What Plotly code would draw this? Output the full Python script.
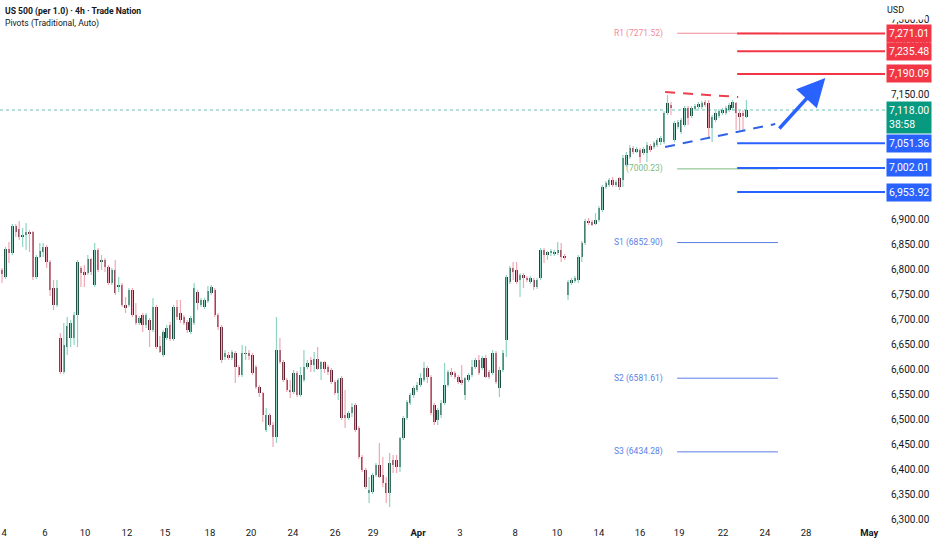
import plotly.graph_objects as go

# 4h candles, US 500
opens = [
    6798, 6784, 6840, 6832, 6886, 6880, 6864, 6868, 6874, 6874,
    6784, 6824, 6834, 6844, 6814, 6762, 6728, 6662, 6594, 6644,
    6662, 6662, 6708, 6802, 6794, 6792, 6820, 6768, 6838, 6814,
    6818, 6804, 6772, 6798, 6764, 6768, 6728, 6728, 6758, 6708,
    6692, 6708, 6688, 6698, 6678, 6724, 6646, 6628, 6662, 6688,
    6660, 6724, 6712, 6704, 6694, 6674, 6692, 6754, 6728, 6724,
    6736, 6752, 6758, 6708, 6684, 6624, 6628, 6622, 6632, 6604,
    6588, 6630, 6632, 6628, 6604, 6564, 6552, 6478, 6508, 6488,
    6464, 6638, 6614, 6578, 6558, 6554, 6592, 6548, 6578, 6604,
    6618, 6608, 6620, 6600, 6614, 6604, 6598, 6574, 6552, 6582,
    6508, 6502, 6512, 6528, 6482, 6424, 6398, 6352, 6354, 6388,
    6408, 6388, 6372, 6352, 6418, 6418, 6404, 6462, 6502, 6532,
    6548, 6558, 6568, 6578, 6602, 6584, 6528, 6498, 6508, 6532,
    6568, 6594, 6592, 6584, 6578, 6548, 6578, 6588, 6604, 6618,
    6602, 6622, 6594, 6592, 6632, 6562, 6598, 6658, 6774, 6802,
    6798, 6778, 6788, 6782, 6774, 6778, 6764, 6782, 6838, 6828,
    6832, 6830, 6832, 6838, 6826, 6748, 6772, 6776, 6778, 6824,
    6852, 6896, 6894, 6890, 6898, 6918, 6964, 6968, 6978, 6968,
    6982, 6978, 7008, 7024, 7042, 7034, 7038, 7032, 7032, 7046,
    7044, 7048, 7054, 7054, 7112, 7128, 7058, 7084, 7074, 7088,
    7122, 7106, 7120, 7124, 7124, 7134, 7132, 7082, 7098, 7106,
    7112, 7112, 7118, 7122, 7132, 7112, 7112, 7104,
]
highs = [
    6802, 6844, 6854, 6890, 6890, 6896, 6882, 6892, 6878, 6876,
    6828, 6852, 6852, 6848, 6818, 6778, 6778, 6672, 6692, 6704,
    6698, 6714, 6818, 6806, 6808, 6828, 6822, 6852, 6842, 6828,
    6822, 6808, 6802, 6818, 6784, 6772, 6744, 6762, 6762, 6732,
    6706, 6712, 6712, 6702, 6742, 6728, 6666, 6678, 6688, 6694,
    6728, 6738, 6738, 6708, 6698, 6706, 6772, 6758, 6742, 6742,
    6766, 6768, 6762, 6712, 6688, 6638, 6634, 6638, 6636, 6608,
    6648, 6646, 6638, 6632, 6608, 6568, 6554, 6522, 6512, 6494,
    6704, 6662, 6618, 6582, 6578, 6598, 6596, 6604, 6638, 6618,
    6624, 6634, 6644, 6616, 6616, 6608, 6602, 6578, 6582, 6586,
    6558, 6516, 6532, 6532, 6486, 6428, 6402, 6384, 6392, 6412,
    6452, 6424, 6384, 6432, 6428, 6428, 6464, 6506, 6538, 6552,
    6566, 6574, 6592, 6614, 6606, 6588, 6532, 6522, 6538, 6612,
    6598, 6602, 6596, 6588, 6608, 6584, 6592, 6618, 6622, 6628,
    6626, 6628, 6598, 6638, 6636, 6604, 6638, 6788, 6806, 6814,
    6814, 6792, 6792, 6786, 6786, 6782, 6782, 6842, 6842, 6836,
    6840, 6838, 6854, 6852, 6830, 6778, 6782, 6786, 6828, 6856,
    6900, 6902, 6898, 6912, 6926, 6968, 6976, 6982, 6984, 6978,
    6984, 7028, 7034, 7048, 7046, 7044, 7042, 7044, 7054, 7050,
    7056, 7062, 7066, 7116, 7148, 7134, 7096, 7098, 7102, 7126,
    7126, 7126, 7130, 7134, 7136, 7138, 7138, 7108, 7116, 7120,
    7122, 7126, 7132, 7138, 7134, 7116, 7118, 7138,
]
lows = [
    6772, 6780, 6812, 6828, 6864, 6858, 6844, 6838, 6834, 6778,
    6780, 6822, 6824, 6802, 6746, 6718, 6724, 6590, 6590, 6628,
    6644, 6648, 6644, 6764, 6764, 6788, 6788, 6764, 6794, 6798,
    6794, 6768, 6768, 6748, 6754, 6724, 6712, 6724, 6704, 6688,
    6688, 6674, 6682, 6644, 6674, 6640, 6632, 6624, 6658, 6656,
    6656, 6698, 6692, 6688, 6672, 6670, 6688, 6718, 6724, 6720,
    6732, 6748, 6704, 6678, 6612, 6618, 6618, 6618, 6572, 6584,
    6584, 6618, 6618, 6588, 6560, 6544, 6494, 6474, 6484, 6444,
    6452, 6610, 6574, 6554, 6542, 6550, 6544, 6544, 6574, 6600,
    6594, 6594, 6598, 6578, 6592, 6588, 6570, 6548, 6538, 6498,
    6482, 6498, 6504, 6474, 6420, 6394, 6360, 6332, 6350, 6384,
    6382, 6364, 6332, 6324, 6392, 6392, 6394, 6458, 6498, 6528,
    6542, 6554, 6564, 6574, 6572, 6508, 6488, 6488, 6502, 6528,
    6564, 6584, 6580, 6570, 6568, 6538, 6574, 6584, 6600, 6588,
    6598, 6582, 6580, 6588, 6570, 6544, 6594, 6624, 6770, 6778,
    6770, 6744, 6762, 6774, 6770, 6758, 6760, 6778, 6812, 6818,
    6826, 6826, 6828, 6814, 6818, 6738, 6768, 6772, 6772, 6814,
    6848, 6888, 6886, 6888, 6894, 6914, 6960, 6964, 6964, 6964,
    6958, 6964, 7004, 7020, 7030, 7032, 7012, 7028, 7014, 7034,
    7040, 7044, 7048, 7050, 7108, 7108, 7054, 7080, 7070, 7084,
    7088, 7102, 7116, 7120, 7120, 7124, 7064, 7054, 7094, 7102,
    7108, 7108, 7114, 7118, 7078, 7078, 7078, 7102,
]
closes = [
    6790, 6840, 6832, 6886, 6874, 6864, 6868, 6874, 6870, 6784,
    6824, 6836, 6844, 6814, 6758, 6728, 6762, 6594, 6648, 6686,
    6692, 6708, 6814, 6792, 6788, 6820, 6794, 6838, 6798, 6818,
    6804, 6772, 6798, 6752, 6768, 6728, 6722, 6758, 6708, 6692,
    6702, 6688, 6708, 6678, 6724, 6644, 6634, 6674, 6682, 6660,
    6724, 6704, 6698, 6692, 6678, 6702, 6762, 6732, 6738, 6738,
    6756, 6764, 6708, 6684, 6618, 6632, 6622, 6634, 6604, 6588,
    6632, 6632, 6626, 6592, 6564, 6552, 6508, 6508, 6488, 6464,
    6638, 6614, 6578, 6558, 6554, 6592, 6548, 6588, 6604, 6612,
    6608, 6620, 6600, 6614, 6600, 6594, 6574, 6552, 6578, 6502,
    6502, 6512, 6524, 6478, 6424, 6398, 6364, 6358, 6388, 6408,
    6384, 6372, 6352, 6412, 6408, 6404, 6462, 6502, 6534, 6548,
    6562, 6568, 6582, 6602, 6584, 6512, 6494, 6518, 6532, 6568,
    6594, 6588, 6584, 6574, 6572, 6582, 6588, 6604, 6618, 6592,
    6622, 6584, 6584, 6632, 6574, 6598, 6632, 6784, 6802, 6794,
    6774, 6788, 6782, 6778, 6782, 6764, 6778, 6838, 6828, 6834,
    6836, 6834, 6838, 6824, 6822, 6774, 6778, 6782, 6824, 6852,
    6896, 6892, 6888, 6898, 6922, 6964, 6972, 6978, 6968, 6974,
    6964, 7022, 7028, 7042, 7034, 7040, 7024, 7040, 7048, 7038,
    7052, 7058, 7062, 7112, 7132, 7122, 7092, 7094, 7098, 7122,
    7102, 7122, 7126, 7130, 7132, 7128, 7082, 7104, 7112, 7116,
    7118, 7122, 7128, 7134, 7112, 7104, 7106, 7118,
]

# date labels on the bar axis
tick_bars = [0.6, 12.5, 24.2, 36.4, 47.5, 60.6, 72.6, 84.8, 97.1, 108.2, 121.3,
             133.5, 149.6, 161.8, 174, 186, 197.4, 210.2, 222.4, 234.4, 252.8]
tick_text = ["4", "6", "10", "12", "15", "18", "20", "24", "26", "29", "<b>Apr</b>",
             "3", "8", "10", "14", "16", "19", "22", "24", "28", "<b>May</b>"]

# price scale labels (the ones not covered by the level boxes)
price_ticks = [6300, 6350, 6400, 6450, 6500, 6550, 6600, 6650, 6700, 6750,
               6800, 6850, 6900, 7150, 7200, 7250, 7300]

# pivots (Traditional, Auto)
pivot_names = ["R1", "", "S1", "S2", "S3"]
pivot_values = [7271.52, 7000.23, 6852.90, 6581.61, 6434.28]
pivot_colors = ["#f28b9a", "#7dbb7f", "#5b7fe6", "#5b7fe6", "#5b7fe6"]

# drawn levels
red_levels = [7271.01, 7235.48, 7190.09]
blue_levels = [7051.36, 7002.01, 6953.92]
last_price = 7118.00
countdown = "38:58"

# drawn trend lines and arrow (bar index, price)
resist_x = [193.3, 214.6]
resist_y = [7154, 7144]
support_x = [193.3, 225.4]
support_y = [7044, 7090]
arrow_x = [226.2, 240.0]
arrow_y = [7078, 7182]

UP_BODY, UP_WICK = "#17473a", "#8fd4c2"
DN_BODY, DN_WICK = "#5a1f2e", "#f2a6b4"
RED, BLUE, GREEN = "#f23645", "#2962ff", "#089981"
FONT = "Roboto"
X_RANGE = [-0.6, 257.4]

fig = go.Figure()

for up in (True, False):
    idx = [i for i in range(len(opens)) if (closes[i] >= opens[i]) == up]
    wx, wy = [], []
    for i in idx:
        wx += [i, i, None]
        wy += [lows[i], highs[i], None]
    fig.add_trace(go.Scatter(x=wx, y=wy, mode="lines", hoverinfo="skip",
                             line=dict(color=UP_WICK if up else DN_WICK, width=1.2)))
    fig.add_trace(go.Bar(
        x=idx,
        base=[min(opens[i], closes[i]) for i in idx],
        y=[max(abs(closes[i] - opens[i]), 2) for i in idx],
        width=0.72, marker=dict(color=UP_BODY if up else DN_BODY, line=dict(width=0)),
    ))

# current price dotted line
fig.add_shape(type="line", x0=X_RANGE[0], x1=X_RANGE[1], y0=last_price, y1=last_price,
              line=dict(color=GREEN, width=1, dash="dot"), opacity=0.6)

# pivot lines + labels
for name, val, col in zip(pivot_names, pivot_values, pivot_colors):
    fig.add_shape(type="line", x0=196.8, x1=226.2, y0=val, y1=val,
                  line=dict(color=col, width=1))
    label = f"{name} ({val:.2f})" if name else f"({val:.2f})"
    fig.add_annotation(x=193.3, y=val, text=label, showarrow=False, xanchor="right",
                       font=dict(family=FONT, size=8.5, color=col))

# horizontal drawn levels
for lv in red_levels:
    fig.add_shape(type="line", x0=214.3, x1=X_RANGE[1], y0=lv, y1=lv,
                  line=dict(color=RED, width=2))
for lv in blue_levels:
    fig.add_shape(type="line", x0=214.3, x1=X_RANGE[1], y0=lv, y1=lv,
                  line=dict(color=BLUE, width=2))

# trend lines
fig.add_trace(go.Scatter(x=resist_x, y=resist_y, mode="lines", hoverinfo="skip",
                         line=dict(color="#ec3f4f", width=2, dash="10px,8px")))
fig.add_trace(go.Scatter(x=support_x, y=support_y, mode="lines", hoverinfo="skip",
                         line=dict(color="#2f62e8", width=2, dash="10px,8px")))
fig.add_annotation(x=arrow_x[1], y=arrow_y[1], ax=arrow_x[0], ay=arrow_y[0],
                   xref="x", yref="y", axref="x", ayref="y", text="",
                   showarrow=True, arrowhead=2, arrowsize=1.6, arrowwidth=3.5,
                   arrowcolor=BLUE)

# price scale boxes
for lv in red_levels:
    fig.add_annotation(x=1, xref="paper", y=lv, xanchor="left", xshift=1,
                       text=f"{lv:,.2f}", showarrow=False, bgcolor=RED, borderpad=2,
                       font=dict(family=FONT, size=10.5, color="white"))
for lv in blue_levels:
    fig.add_annotation(x=1, xref="paper", y=lv, xanchor="left", xshift=1,
                       text=f"{lv:,.2f}", showarrow=False, bgcolor=BLUE, borderpad=2,
                       font=dict(family=FONT, size=10.5, color="white"))
fig.add_annotation(x=1, xref="paper", y=last_price, yanchor="top", yshift=9,
                   xanchor="left", xshift=1, align="left",
                   text=f"{last_price:,.2f}<br>{countdown}", showarrow=False,
                   bgcolor=GREEN, borderpad=2,
                   font=dict(family=FONT, size=10.5, color="white"))

fig.add_annotation(x=1, xref="paper", y=1, yref="paper", xanchor="left", yanchor="top",
                   xshift=1, yshift=0, text="USD", showarrow=False, align="left",
                   width=38, height=18, bgcolor="white", borderpad=0,
                   font=dict(family=FONT, size=9, color="#131722"))
fig.add_annotation(x=0, xref="paper", y=1, yref="paper", xanchor="left", yanchor="top",
                   xshift=3, yshift=-4, text="<b>US 500 (per 1.0) · 4h · Trade Nation</b>",
                   showarrow=False, font=dict(family=FONT, size=8.6, color="#131722"))
fig.add_annotation(x=0, xref="paper", y=1, yref="paper", xanchor="left", yanchor="top",
                   xshift=3, yshift=-16, text="Pivots (Traditional, Auto)",
                   showarrow=False, font=dict(family=FONT, size=8.6, color="#131722"))

fig.update_layout(
    width=932, height=550,
    margin=dict(l=0, r=47, t=0, b=25),
    paper_bgcolor="white", plot_bgcolor="white",
    showlegend=False, barmode="overlay", bargap=0,
    font=dict(family=FONT, size=11, color="#131722"),
    xaxis=dict(range=X_RANGE, tickvals=tick_bars, ticktext=tick_text,
               showgrid=False, zeroline=False, showline=False, ticks="",
               tickfont=dict(size=9.5), automargin=False),
    yaxis=dict(range=[6288, 7338], side="right", tickvals=price_ticks,
               tickformat=",.2f", showgrid=False, zeroline=False, showline=False,
               ticks="", tickfont=dict(size=10), ticklabelstandoff=5,
               automargin=False),
)

# page has a default 8px body margin; drop it so the chart fills the window
fig.write_html("out.html", config={"displayModeBar": False},
               post_script="document.body.style.margin='0';")
